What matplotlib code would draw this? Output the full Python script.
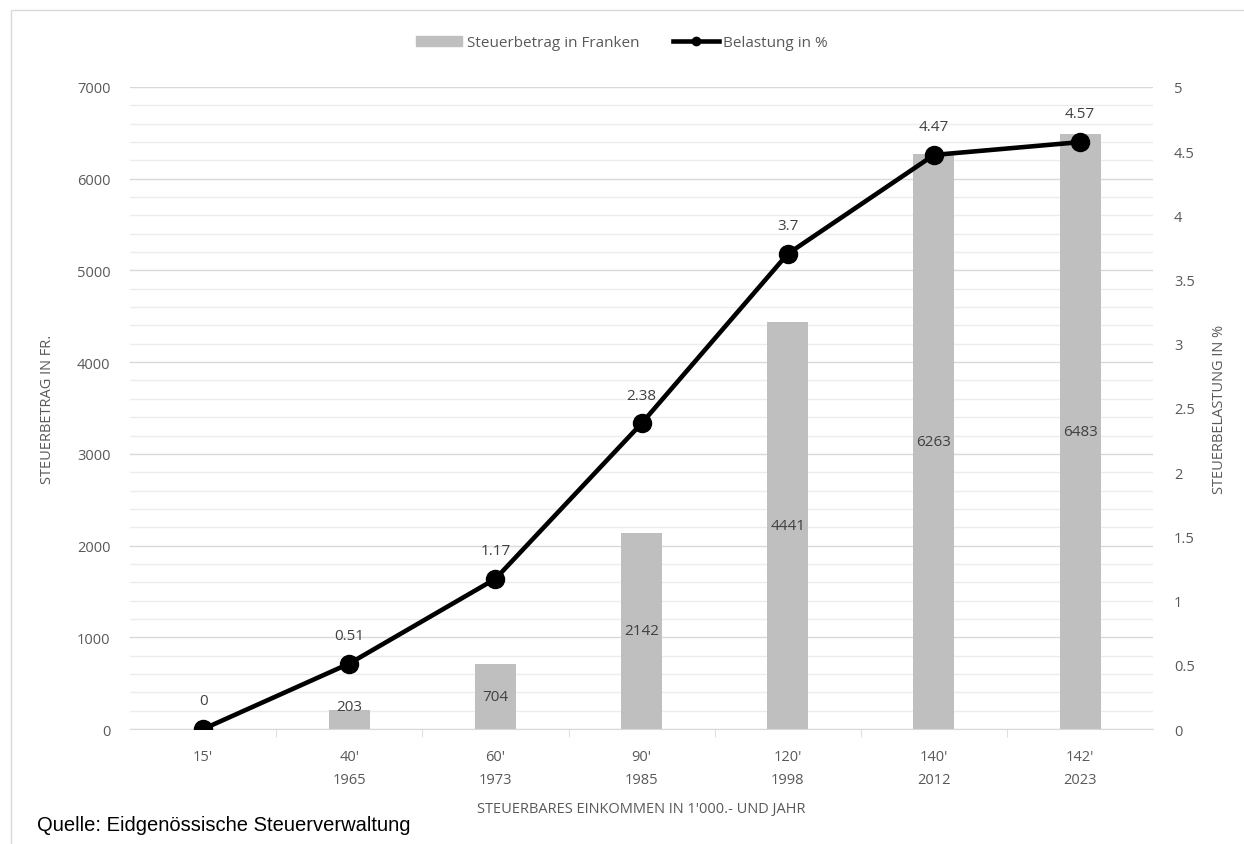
import matplotlib

matplotlib.use("Agg")
import matplotlib.pyplot as plt  # noqa: E402
from matplotlib.lines import Line2D  # noqa: E402
from matplotlib.patches import Patch  # noqa: E402

categories = ["15'", "40'\n1965", "60'\n1973", "90'\n1985", "120'\n1998", "140'\n2012", "142'\n2023"]
steuerbetrag = [0, 203, 704, 2142, 4441, 6263, 6483]
belastung = [0, 0.51, 1.17, 2.38, 3.7, 4.47, 4.57]
belastung_labels = ["0", "0.51", "1.17", "2.38", "3.7", "4.47", "4.57"]

GREY_TXT = "#595959"
plt.rcParams["font.family"] = ["Open Sans", "DejaVu Sans"]
plt.rcParams["font.size"] = 10.5

fig = plt.figure(figsize=(12.44, 8.45), dpi=100)
ax = fig.add_axes([0.1045, 0.136, 0.8225, 0.76])
ax2 = ax.twinx()

x = list(range(len(categories)))
ax.bar(x, steuerbetrag, width=0.28, color="#BFBFBF", zorder=2)
for xi, v in zip(x, steuerbetrag):
    if v > 0:
        ax.text(xi, max(v / 2, 250), str(v), ha="center", va="center",
                color="#404040", fontsize=11, zorder=3)

ax.set_xlim(-0.5, len(categories) - 0.5)
ax.set_ylim(0, 7000)
ax.set_yticks(range(0, 7001, 1000))
ax.set_yticks(range(0, 7001, 200), minor=True)
ax.grid(axis="y", which="major", color="#D9D9D9", lw=1, zorder=0)
ax.grid(axis="y", which="minor", color="#ECECEC", lw=1, zorder=0)
ax.set_axisbelow(True)
ax.set_xticks(x)
ax.set_xticklabels(categories, color=GREY_TXT, linespacing=1.75)
ax.set_xticks([i + 0.5 for i in x[:-1]], minor=True)
ax.tick_params(axis="x", which="major", length=0, pad=14)
ax.tick_params(axis="x", which="minor", length=6, color="#D9D9D9")
ax.tick_params(axis="y", which="both", length=0, labelcolor=GREY_TXT, pad=14)
for s in ["top", "left", "right"]:
    ax.spines[s].set_visible(False)
    ax2.spines[s].set_visible(False)
ax.spines["bottom"].set_color("#D9D9D9")
ax2.spines["bottom"].set_visible(False)

ax2.plot(x, belastung, color="black", lw=3.3, marker="o", markersize=13, zorder=4)
for xi, v, lab in zip(x, belastung, belastung_labels):
    ax2.annotate(lab, (xi, v), xytext=(0, 15), textcoords="offset points", ha="center", va="bottom",
                 color="#404040", fontsize=11)
ax2.set_ylim(0, 5)
ax2.set_yticks([0, 0.5, 1, 1.5, 2, 2.5, 3, 3.5, 4, 4.5, 5])
ax2.set_yticklabels(["0", "0.5", "1", "1.5", "2", "2.5", "3", "3.5", "4", "4.5", "5"])
ax2.tick_params(axis="y", length=0, labelcolor=GREY_TXT, pad=15)

ax.set_ylabel("STEUERBETRAG IN FR.", color=GREY_TXT, labelpad=16)
ax2.set_ylabel("STEUERBELASTUNG IN %", color=GREY_TXT, labelpad=12)
ax.set_xlabel("STEUERBARES EINKOMMEN IN 1'000.- UND JAHR", color=GREY_TXT, labelpad=10)

handles = [Patch(color="#BFBFBF"),
           Line2D([0], [0], color="black", lw=3.3, marker="o", markersize=6)]
fig.legend(handles, ["Steuerbetrag in Franken", "Belastung in %"], loc="center", ncol=2,
           bbox_to_anchor=(0.5, 0.948), frameon=False, labelcolor=GREY_TXT, handlelength=3,
           columnspacing=2.2, handletextpad=0.3, fontsize=11)

fig.text(0.03, 0.016, "Quelle: Eidgenössische Steuerverwaltung", fontsize=14.5, color="black",
         family=["Liberation Sans", "DejaVu Sans"])
fig.add_artist(plt.Rectangle((0.009, -0.01), 1.0, 0.997, transform=fig.transFigure, fill=False,
                             ec="#D9D9D9", lw=1))

fig.savefig("out.png", dpi=100)
